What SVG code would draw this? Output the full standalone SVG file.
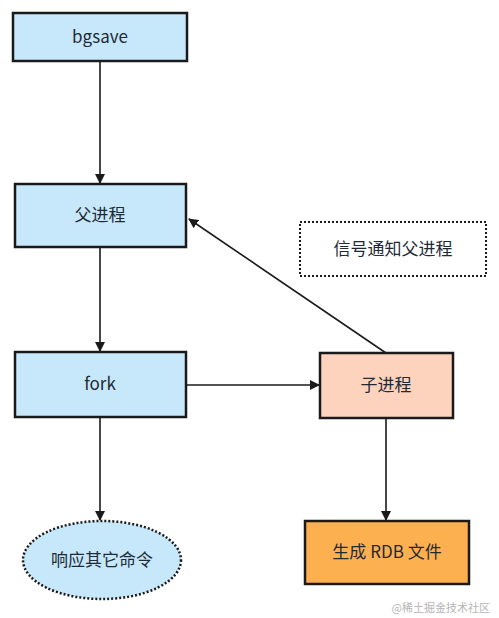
<svg xmlns="http://www.w3.org/2000/svg" width="499" height="618" viewBox="0 0 499 618">
<defs>
<style>
.box{stroke:#1a1a1a;stroke-width:2.5}
.blue{fill:#c7e8fb}
.t{font-family:"Noto Sans CJK SC","Noto Sans",sans-serif;font-size:17px;fill:#1e2a36;text-anchor:middle;dominant-baseline:central}
.c{stroke:#1a1a1a;stroke-width:1.6;fill:none;marker-end:url(#ah)}
</style>
<marker id="ah" markerWidth="10" markerHeight="10" refX="9" refY="5" orient="auto" markerUnits="userSpaceOnUse">
<path d="M0,0 L10,5 L0,10 z" fill="#1a1a1a"/>
</marker>
</defs>
<rect width="499" height="618" fill="#ffffff"/>
<g id="connectors">
<line class="c" x1="100" y1="61" x2="100" y2="183"/>
<line class="c" x1="100" y1="247" x2="100" y2="351"/>
<line class="c" x1="186" y1="385" x2="319" y2="385"/>
<line class="c" x1="386" y1="353" x2="189" y2="219"/>
<line class="c" x1="386" y1="418" x2="386" y2="520"/>
<line class="c" x1="100" y1="417" x2="100" y2="520"/>
</g>
<g id="bgsave"><rect class="box blue" x="13" y="13" width="174" height="48"/><text class="t" x="100" y="35.5">bgsave</text></g>
<g id="parent"><rect class="box blue" x="15" y="184" width="171" height="63"/><text class="t" x="100" y="213.5">父进程</text></g>
<g id="fork"><rect class="box blue" x="15" y="352" width="171" height="65"/><text class="t" x="100" y="382.5">fork</text></g>
<g id="child"><rect class="box" fill="#fdd3bd" x="320" y="353" width="133" height="65"/><text class="t" x="386" y="383.5">子进程</text></g>
<g id="signal"><rect x="300" y="222" width="186" height="54" fill="none" stroke="#1a1a1a" stroke-width="2" stroke-dasharray="2,2"/><text class="t" x="393" y="247.5">信号通知父进程</text></g>
<g id="respond"><ellipse cx="102" cy="560" rx="79" ry="39" class="blue" stroke="#1a1a1a" stroke-width="2.5" stroke-dasharray="2,2"/><text class="t" x="102" y="558.5">响应其它命令</text></g>
<g id="rdb"><rect class="box" fill="#fdb04f" x="305" y="521" width="164" height="63"/><text class="t" x="387" y="550.5">生成 RDB 文件</text></g>
<text x="490" y="607" font-family="Noto Sans CJK SC,sans-serif" font-size="11" fill="#b5b5b5" text-anchor="end" dominant-baseline="central">@稀土掘金技术社区</text>
</svg>
